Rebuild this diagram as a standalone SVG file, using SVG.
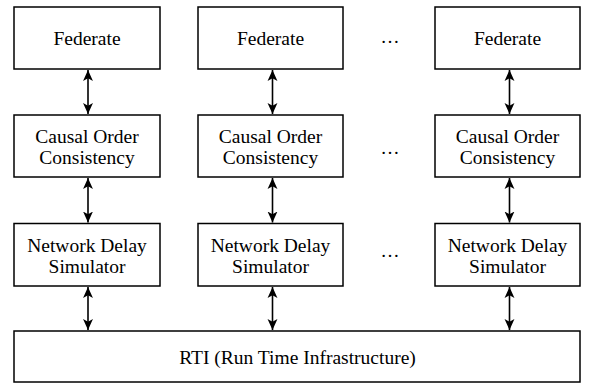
<svg xmlns="http://www.w3.org/2000/svg" width="589" height="383" viewBox="0 0 589 383">
  <style>
    .box { fill: #fff; stroke: #000; stroke-width: 1.5; }
    .lbl { font-family: "Liberation Serif", "Times New Roman", serif; font-size: 19.5px; fill: #000; text-anchor: middle; }
    .dots { font-family: "Liberation Serif", serif; font-size: 19px; fill: #000; text-anchor: middle; }
    .link { stroke: #000; stroke-width: 1.6; fill: none; marker-start: url(#head); marker-end: url(#head); }
  </style>
  <defs>
    <marker id="head" viewBox="0 0 10 10" markerUnits="userSpaceOnUse" markerWidth="11" markerHeight="11" refX="10" refY="5" orient="auto-start-reverse">
      <path d="M0,0.5 L10,5 L0,9.5 L2.5,5 z" fill="#000"/>
    </marker>
  </defs>
  <rect width="589" height="383" fill="#fff"/>

  <!-- column 1 -->
  <g id="federate-1">
    <rect class="box" x="14" y="7" width="146" height="62"/>
    <text class="lbl" x="87" y="44.5">Federate</text>
  </g>
  <g id="causal-1">
    <rect class="box" x="14" y="115" width="146" height="62"/>
    <text class="lbl" x="87" y="142.5">Causal Order</text>
    <text class="lbl" x="87" y="163.5">Consistency</text>
  </g>
  <g id="delay-1">
    <rect class="box" x="14" y="223.5" width="146" height="62.5"/>
    <text class="lbl" x="87" y="252">Network Delay</text>
    <text class="lbl" x="87" y="273">Simulator</text>
  </g>

  <!-- column 2 -->
  <g id="federate-2">
    <rect class="box" x="198" y="7" width="145" height="62"/>
    <text class="lbl" x="270.5" y="44.5">Federate</text>
  </g>
  <g id="causal-2">
    <rect class="box" x="198" y="115" width="145" height="62"/>
    <text class="lbl" x="270.5" y="142.5">Causal Order</text>
    <text class="lbl" x="270.5" y="163.5">Consistency</text>
  </g>
  <g id="delay-2">
    <rect class="box" x="198" y="223.5" width="145" height="62.5"/>
    <text class="lbl" x="270.5" y="252">Network Delay</text>
    <text class="lbl" x="270.5" y="273">Simulator</text>
  </g>

  <!-- column 3 -->
  <g id="federate-3">
    <rect class="box" x="435" y="7" width="145" height="62"/>
    <text class="lbl" x="507.5" y="44.5">Federate</text>
  </g>
  <g id="causal-3">
    <rect class="box" x="435" y="115" width="145" height="62"/>
    <text class="lbl" x="507.5" y="142.5">Causal Order</text>
    <text class="lbl" x="507.5" y="163.5">Consistency</text>
  </g>
  <g id="delay-3">
    <rect class="box" x="435" y="223.5" width="145" height="62.5"/>
    <text class="lbl" x="507.5" y="252">Network Delay</text>
    <text class="lbl" x="507.5" y="273">Simulator</text>
  </g>

  <!-- shared runtime layer -->
  <g id="rti">
    <rect class="box" x="14" y="331" width="566" height="51"/>
    <text class="lbl" x="297.5" y="363.5">RTI (Run Time Infrastructure)</text>
  </g>

  <!-- ellipses between columns 2 and 3 -->
  <g id="ellipsis">
    <text class="dots" x="390" y="43">…</text>
    <text class="dots" x="390" y="154">…</text>
    <text class="dots" x="390" y="257">…</text>
  </g>

  <!-- bidirectional connectors -->
  <g id="connectors">
    <line class="link" x1="88" y1="70" x2="88" y2="114"/>
    <line class="link" x1="88" y1="178" x2="88" y2="222.5"/>
    <line class="link" x1="88" y1="287" x2="88" y2="330"/>
    <line class="link" x1="272.5" y1="70" x2="272.5" y2="114"/>
    <line class="link" x1="272.5" y1="178" x2="272.5" y2="222.5"/>
    <line class="link" x1="272.5" y1="287" x2="272.5" y2="330"/>
    <line class="link" x1="509.5" y1="70" x2="509.5" y2="114"/>
    <line class="link" x1="509.5" y1="178" x2="509.5" y2="222.5"/>
    <line class="link" x1="509.5" y1="287" x2="509.5" y2="330"/>
  </g>
</svg>
